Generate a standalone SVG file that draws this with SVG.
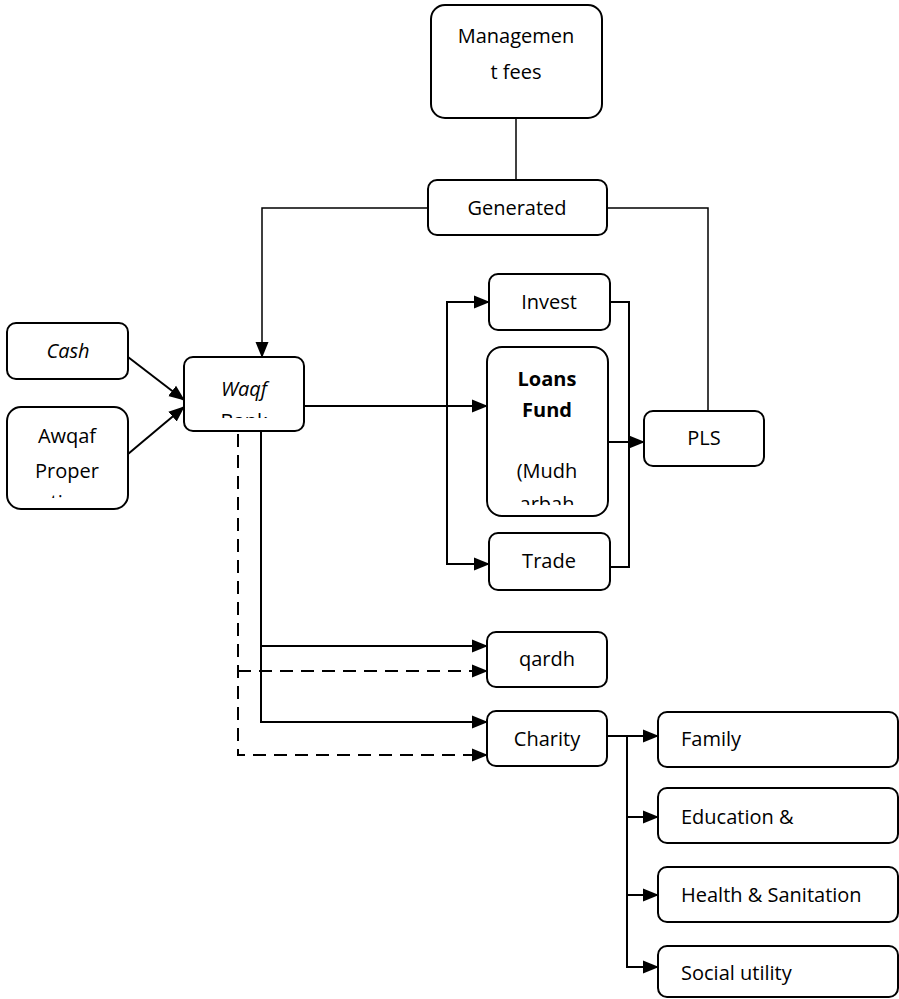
<svg xmlns="http://www.w3.org/2000/svg" width="899" height="999" viewBox="0 0 899 999">
<style>
.box{fill:#fff;stroke:#000;stroke-width:2}
.t{font-family:"Open Sans","Noto Sans","Liberation Sans",sans-serif;font-size:20px;fill:#000}
.c{text-anchor:middle}
.i{font-style:italic}
.b{font-weight:bold}
.ln{fill:none;stroke:#000;stroke-width:2}
.thin{fill:none;stroke:#000;stroke-width:1.5}
.d{stroke-dasharray:13 8}
</style>
<defs>
<marker id="ah" markerUnits="userSpaceOnUse" markerWidth="16" markerHeight="14" viewBox="0 0 16 14" refX="15" refY="7" orient="auto">
<path d="M0,0.5 L16,7 L0,13.5 Z" fill="#000"/>
</marker>
<clipPath id="cWaqf"><rect x="184" y="357" width="120" height="61"/></clipPath>
<clipPath id="cAwqaf"><rect x="7" y="407" width="121" height="91"/></clipPath>
<clipPath id="cLoans"><rect x="487" y="347" width="121" height="158"/></clipPath>
</defs>
<g id="connectors">
<line class="thin" x1="516" y1="118" x2="516" y2="180"/>
<polyline class="thin" points="428,208 262,208 262,357" marker-end="url(#ah)"/>
<polyline class="thin" points="607,208 708,208 708,411"/>
<line class="ln" x1="128" y1="357" x2="184" y2="400" marker-end="url(#ah)"/>
<line class="ln" x1="128" y1="454" x2="184" y2="407" marker-end="url(#ah)"/>
<line class="ln" x1="304" y1="406" x2="487" y2="406" marker-end="url(#ah)"/>
<polyline class="ln" points="489,302 447,302 447,564 489,564" marker-end="url(#ah)"/>
<line class="ln" x1="447" y1="302" x2="489" y2="302" marker-end="url(#ah)"/>
<polyline class="ln" points="610,302 629,302 629,567 610,567"/>
<line class="ln" x1="608" y1="442" x2="644" y2="442" marker-end="url(#ah)"/>
<polyline class="ln" points="261,431 261,722 487,722" marker-end="url(#ah)"/>
<line class="ln" x1="261" y1="646" x2="487" y2="646" marker-end="url(#ah)"/>
<polyline class="ln d" points="238,434 238,755 487,755" marker-end="url(#ah)"/>
<line class="ln d" x1="238" y1="671" x2="487" y2="671" marker-end="url(#ah)"/>
<line class="ln" x1="607" y1="736" x2="658" y2="736" marker-end="url(#ah)"/>
<polyline class="ln" points="627,736 627,967 658,967" marker-end="url(#ah)"/>
<line class="ln" x1="627" y1="817" x2="658" y2="817" marker-end="url(#ah)"/>
<line class="ln" x1="627" y1="895" x2="658" y2="895" marker-end="url(#ah)"/>
</g>
<g id="management">
<rect class="box" x="431" y="5" width="171" height="113" rx="14"/>
<text class="t c" x="516" y="43">Managemen</text>
<text class="t c" x="516" y="79">t fees</text>
</g>
<g id="generated">
<rect class="box" x="428" y="180" width="179" height="55" rx="9"/>
<text class="t c" x="517" y="215">Generated</text>
</g>
<g id="cash">
<rect class="box" x="7" y="323" width="121" height="56" rx="9"/>
<text class="t c i" x="68" y="358">Cash</text>
</g>
<g id="awqaf">
<rect class="box" x="7" y="407" width="121" height="102" rx="14"/>
<g clip-path="url(#cAwqaf)">
<text class="t c" x="67" y="443">Awqaf</text>
<text class="t c" x="67" y="478">Proper</text>
<text class="t c" x="67" y="509">ties</text>
</g>
</g>
<g id="waqf">
<rect class="box" x="184" y="357" width="120" height="74" rx="9"/>
<g clip-path="url(#cWaqf)">
<text class="t c i" x="244" y="396">Waqf</text>
<text class="t c" x="244" y="428">Bank</text>
</g>
</g>
<g id="invest">
<rect class="box" x="489" y="274" width="121" height="56" rx="9"/>
<text class="t c" x="549" y="309">Invest</text>
</g>
<g id="loans">
<rect class="box" x="487" y="347" width="121" height="169" rx="15"/>
<g clip-path="url(#cLoans)">
<text class="t c b" x="547" y="386">Loans</text>
<text class="t c b" x="547" y="417">Fund</text>
<text class="t c" x="547" y="478">(Mudh</text>
<text class="t c" x="547" y="511">arbah</text>
</g>
</g>
<g id="trade">
<rect class="box" x="489" y="533" width="121" height="57" rx="9"/>
<text class="t c" x="549" y="568">Trade</text>
</g>
<g id="pls">
<rect class="box" x="644" y="411" width="120" height="55" rx="9"/>
<text class="t c" x="704" y="445">PLS</text>
</g>
<g id="qardh">
<rect class="box" x="487" y="632" width="120" height="55" rx="9"/>
<text class="t c" x="547" y="666">qardh</text>
</g>
<g id="charity">
<rect class="box" x="487" y="711" width="120" height="55" rx="9"/>
<text class="t c" x="547" y="746">Charity</text>
</g>
<g id="family">
<rect class="box" x="658" y="712" width="240" height="55" rx="9"/>
<text class="t" x="681" y="746">Family</text>
</g>
<g id="education">
<rect class="box" x="658" y="788" width="240" height="55" rx="9"/>
<text class="t" x="681" y="824">Education &amp;</text>
</g>
<g id="health">
<rect class="box" x="658" y="867" width="240" height="55" rx="9"/>
<text class="t" x="681" y="902">Health &amp; Sanitation</text>
</g>
<g id="social">
<rect class="box" x="658" y="946" width="240" height="51" rx="9"/>
<text class="t" x="681" y="980">Social utility</text>
</g>
</svg>
